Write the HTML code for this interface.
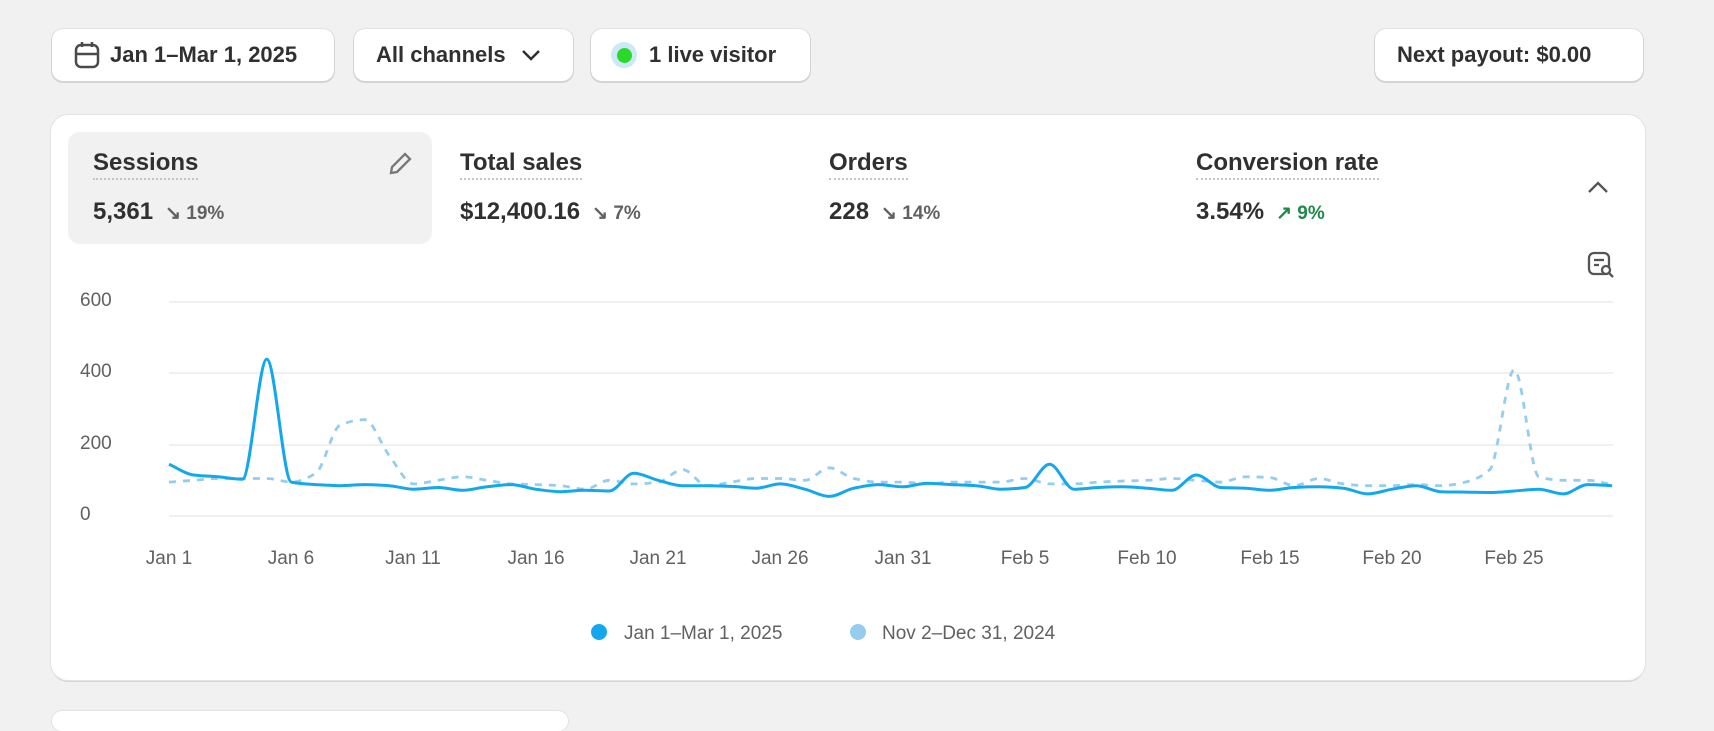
<!DOCTYPE html>
<html><head><meta charset="utf-8"><style>
body{margin:0;width:1714px;height:718px;background:#f1f1f1;font-family:"Liberation Sans",sans-serif;position:relative;overflow:hidden;color:#303030}
.btn{position:absolute;top:29px;height:52px;background:#fff;border-radius:11px;box-shadow:0 1px 0 1px #d4d4d4,0 0 0 1px #e3e3e3;font-size:22px;font-weight:bold;display:flex;align-items:center;box-sizing:border-box;padding-left:22px}
.card{position:absolute;left:51px;top:115px;width:1594px;height:565px;background:#fff;border-radius:17px;box-shadow:0 0 0 1px #e3e3e3,0 2px 0 0 #d6d6d6}
.tile{position:absolute;left:68px;top:132px;width:364px;height:112px;background:#f1f1f1;border-radius:12px}
.t{position:absolute;font-size:24px;font-weight:bold;border-bottom:2px dotted #c4c4c4;padding-bottom:2px;line-height:26px}
.v{position:absolute;font-size:24px;font-weight:bold;line-height:26px}
.v span{font-size:19px;color:#616161;margin-left:12px}
.ax{position:absolute;font-size:19px;color:#616161}
</style></head><body>
<div class="btn" style="left:52px;width:282px"><svg width="26" height="28" viewBox="0 0 26 28" style="margin-right:10px"><rect x="2" y="4" width="22" height="22" rx="5" fill="none" stroke="#4a4a4a" stroke-width="2.5"/><line x1="2" y1="13" x2="24" y2="13" stroke="#4a4a4a" stroke-width="2.5"/><line x1="8" y1="1" x2="8" y2="6" stroke="#4a4a4a" stroke-width="2.5"/><line x1="18" y1="1" x2="18" y2="6" stroke="#4a4a4a" stroke-width="2.5"/></svg>Jan 1–Mar 1, 2025</div>
<div class="btn" style="left:354px;width:219px">All channels<svg width="22" height="14" style="margin-left:14px"><path d="M3 3l8 8 8-8" fill="none" stroke="#303030" stroke-width="2.5"/></svg></div>
<div class="btn" style="left:591px;width:219px;padding-left:20px"><span style="width:26px;height:26px;border-radius:50%;background:#cde9f5;display:flex;align-items:center;justify-content:center;margin-right:12px"><span style="width:15px;height:15px;border-radius:50%;background:#2bd92b"></span></span>1 live visitor</div>
<div class="btn" style="left:1375px;width:268px">Next payout: $0.00</div>
<div class="card"></div>
<div class="tile"></div>
<div class="t" style="left:93px;top:150px">Sessions</div>
<svg style="position:absolute;left:386px;top:150px" width="28" height="28" viewBox="0 0 28 28"><path d="M5 23l1-6L19 4l5 5L11 22z" fill="none" stroke="#777" stroke-width="2.3"/></svg>
<div class="v" style="left:93px;top:199px">5,361<span>↘ 19%</span></div>
<div class="t" style="left:460px;top:150px">Total sales</div>
<div class="v" style="left:460px;top:199px">$12,400.16<span>↘ 7%</span></div>
<div class="t" style="left:829px;top:150px">Orders</div>
<div class="v" style="left:829px;top:199px">228<span>↘ 14%</span></div>
<div class="t" style="left:1196px;top:150px">Conversion rate</div>
<div class="v" style="left:1196px;top:199px">3.54%<span style="color:#1e8a4a">↗ 9%</span></div>
<svg style="position:absolute;left:1586px;top:178px" width="24" height="18"><path d="M3 14l9-9 9 9" fill="none" stroke="#555" stroke-width="2.3"/></svg>
<svg style="position:absolute;left:1587px;top:251px" width="28" height="28" viewBox="0 0 28 28"><rect x="2" y="2" width="20" height="21" rx="5" fill="none" stroke="#555" stroke-width="2.3"/><line x1="7" y1="9" x2="17" y2="9" stroke="#555" stroke-width="2.3"/><line x1="7" y1="14" x2="12" y2="14" stroke="#555" stroke-width="2.3"/><circle cx="19" cy="19" r="4" fill="#fff" stroke="#555" stroke-width="2.3"/><line x1="22" y1="22" x2="26" y2="26" stroke="#555" stroke-width="2.3"/></svg>
<div class="ax" style="left:80px;top:290px">600</div>
<div class="ax" style="left:80px;top:361px">400</div>
<div class="ax" style="left:80px;top:433px">200</div>
<div class="ax" style="left:80px;top:504px">0</div>
<svg id="ch" style="position:absolute;left:0;top:0" width="1714" height="718">
<g stroke="#ebebeb" stroke-width="1.5"><line x1="169" y1="302" x2="1613" y2="302"/><line x1="169" y1="373" x2="1613" y2="373"/><line x1="169" y1="445" x2="1613" y2="445"/><line x1="169" y1="516" x2="1613" y2="516"/></g>
<path id="p2" fill="none" stroke="#94cdee" stroke-width="2.8" stroke-dasharray="7,7"/>
<path id="p1" fill="none" stroke="#13a8ee" stroke-width="3"/>
<g font-size="19" fill="#616161" text-anchor="middle" font-family="Liberation Sans,sans-serif">
<text x="169" y="564">Jan 1</text><text x="291" y="564">Jan 6</text><text x="413" y="564">Jan 11</text><text x="536" y="564">Jan 16</text><text x="658" y="564">Jan 21</text><text x="780" y="564">Jan 26</text><text x="903" y="564">Jan 31</text><text x="1025" y="564">Feb 5</text><text x="1147" y="564">Feb 10</text><text x="1270" y="564">Feb 15</text><text x="1392" y="564">Feb 20</text><text x="1514" y="564">Feb 25</text>
<text x="624" y="639" text-anchor="start">Jan 1–Mar 1, 2025</text><text x="882" y="639" text-anchor="start">Nov 2–Dec 31, 2024</text></g>
<circle cx="599" cy="632" r="8" fill="#13a8ee"/><circle cx="858" cy="632" r="8" fill="#94cdee"/>
</svg>
<div style="position:absolute;left:52px;top:711px;width:516px;height:20px;background:#fff;border-radius:12px;box-shadow:0 0 0 1px #e3e3e3"></div>
<script>
var a=[145,115,110,103,440,95,88,85,88,85,75,80,72,82,88,75,68,72,70,120,100,85,85,83,78,90,75,55,78,88,82,92,88,85,75,80,145,75,80,82,78,72,115,80,78,72,80,82,78,62,75,85,68,67,66,70,75,62,88,85];
var b=[95,100,105,105,105,95,120,255,270,170,90,100,110,100,90,88,85,75,100,90,95,130,85,95,105,105,100,135,105,95,95,90,95,95,95,105,90,90,95,98,100,105,100,95,110,108,85,105,90,85,85,88,85,95,130,410,110,100,100,88];
function P(d){var n=d.length,x=[],y=[];for(var i=0;i<n;i++){x.push(169+i*24.46);y.push(516-d[i]*0.3567)}
var h=24.46,dl=[],m=[];for(i=0;i<n-1;i++)dl.push((y[i+1]-y[i])/h);
m[0]=dl[0];m[n-1]=dl[n-2];for(i=1;i<n-1;i++){if(dl[i-1]*dl[i]<=0)m[i]=0;else m[i]=2/(1/dl[i-1]+1/dl[i]);}
var s="M"+x[0].toFixed(1)+" "+y[0].toFixed(1);
for(i=0;i<n-1;i++){s+="C"+(x[i]+h/3).toFixed(1)+" "+(y[i]+m[i]*h/3).toFixed(1)+" "+(x[i+1]-h/3).toFixed(1)+" "+(y[i+1]-m[i+1]*h/3).toFixed(1)+" "+x[i+1].toFixed(1)+" "+y[i+1].toFixed(1)}return s}
document.getElementById("p1").setAttribute("d",P(a));document.getElementById("p2").setAttribute("d",P(b));
</script>
</body></html>
